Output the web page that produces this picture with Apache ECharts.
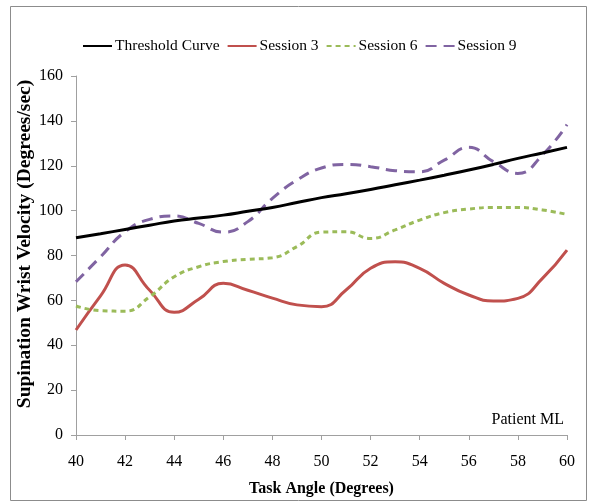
<!DOCTYPE html>
<html>
<head>
<meta charset="utf-8">
<script src="https://cdn.jsdelivr.net/npm/echarts@6/dist/echarts.min.js"></script>
<style>html,body{margin:0;padding:0;background:#fff}#c{width:590px;height:504px}</style>
</head>
<body>
<div id="c"></div>
<script>
const angles = [40, 41, 42, 43, 44, 45, 46, 47, 48, 49, 50, 51, 52, 53, 54, 55, 56, 57, 58, 59, 60];
const threshold = [87.9, 89.7, 91.6, 93.5, 95.4, 96.7, 98, 99.7, 101.4, 103.6, 105.8, 107.5, 109.4, 111.5, 113.6, 115.8, 118.1, 120.6, 123.3, 125.7, 128.2];
const session3 = [46.8, 62, 75.8, 64.5, 54.7, 60.5, 67.6, 64.5, 61, 58, 57.2, 64.6, 74.3, 77.2, 74.3, 67.6, 62.4, 59.7, 60.9, 69.8, 82.4];
const session6 = [57.5, 55.4, 55.2, 61.6, 70.5, 75, 77.3, 78.3, 79, 84, 90.4, 90.6, 87.6, 91.4, 95.8, 99.1, 100.7, 101.4, 101.4, 100.3, 98.3];
const session9 = [68.3, 79.4, 90.6, 96.1, 97.6, 94.3, 90.4, 95.1, 105.5, 113.6, 119, 120.6, 119.6, 117.8, 117.3, 122.5, 128.2, 121.8, 116.6, 124.8, 138.3];
const seriesNames = ['Threshold Curve', 'Session 3', 'Session 6', 'Session 9'];
const xTitle = 'Task Angle (Degrees)';
const yTitle = 'Supination Wrist Velocity (Degrees/sec)';
const note = 'Patient ML';

const pair = arr => angles.map((a, i) => [a, arr[i]]);
const font = '"Liberation Serif", "Times New Roman", serif';

const chart = echarts.init(document.getElementById('c'), null, {renderer: 'canvas'});
chart.setOption({
  animation: false,
  backgroundColor: '#fff',
  textStyle: {fontFamily: font},
  legend: {
    top: 33, left: 77,
    itemWidth: 29, itemHeight: 10, itemGap: 7,
    itemStyle: {opacity: 0},
    textStyle: {fontFamily: font, fontSize: 15.5, color: '#000', padding: [0, 0, 0, -2]},
    data: seriesNames
  },
  grid: {left: 76, right: 23, top: 76, bottom: 69},
  xAxis: {
    type: 'value', min: 40, max: 60, interval: 2,
    name: xTitle, nameLocation: 'middle', nameGap: 46,
    nameTextStyle: {fontFamily: font, fontSize: 16, fontWeight: 'bold', color: '#000'},
    axisLine: {lineStyle: {color: '#a0a0a0', width: 1}},
    axisTick: {show: true, length: 5, lineStyle: {color: '#a0a0a0'}},
    axisLabel: {fontFamily: font, fontSize: 16, color: '#000', margin: 19},
    splitLine: {show: false}
  },
  yAxis: {
    type: 'value', min: 0, max: 160, interval: 20,
    axisLine: {show: true, lineStyle: {color: '#a0a0a0', width: 1}},
    axisTick: {show: true, length: 5, lineStyle: {color: '#a0a0a0'}},
    axisLabel: {fontFamily: font, fontSize: 16, color: '#000', margin: 13},
    splitLine: {show: false}
  },
  graphic: [
    {type: 'rect', shape: {x: 10.5, y: 6.5, width: 576, height: 494}, style: {fill: 'none', stroke: '#8c8c8c', lineWidth: 1}, z: -1},
    {type: 'text', x: 25, y: 244, rotation: Math.PI / 2,
     style: {text: yTitle, font: 'bold 19.5px ' + font, fill: '#000', align: 'center', verticalAlign: 'middle'}},
    {type: 'text', right: 26, top: 412, style: {text: note, font: '16px ' + font, fill: '#000'}}
  ],
  series: [
    {name: seriesNames[0], type: 'line', data: pair(threshold), smooth: 0.5, symbol: 'none',
     lineStyle: {color: '#000000', width: 3}, itemStyle: {color: '#000000'}, z: 4},
    {name: seriesNames[1], type: 'line', data: pair(session3), smooth: 0.5, symbol: 'none',
     lineStyle: {color: '#C0504D', width: 3}, itemStyle: {color: '#C0504D'}},
    {name: seriesNames[2], type: 'line', data: pair(session6), smooth: 0.5, symbol: 'none',
     lineStyle: {color: '#9BBB59', width: 3, type: [5, 4]}, itemStyle: {color: '#9BBB59'}},
    {name: seriesNames[3], type: 'line', data: pair(session9), smooth: 0.5, symbol: 'none',
     lineStyle: {color: '#8064A2', width: 3, type: [11, 7]}, itemStyle: {color: '#8064A2'}}
  ]
});
</script>
</body>
</html>
